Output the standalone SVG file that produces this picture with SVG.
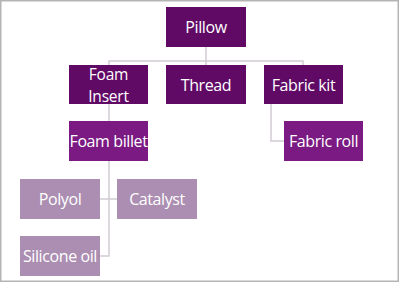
<svg xmlns="http://www.w3.org/2000/svg" width="400" height="283" viewBox="0 0 400 283">
<style>
.n1{fill:#600a66}
.n2{fill:#7a1a82}
.n3{fill:#ab8eb1}
text{font-family:"Segoe UI","Open Sans","Noto Sans",sans-serif;font-size:16px;letter-spacing:-0.4px;fill:#ffffff;text-anchor:middle}
.two{font-size:15.5px;letter-spacing:-0.2px}
.c{fill:none;stroke:#d2cad4;stroke-width:1.5}
</style>
<rect x="0.75" y="0.75" width="397.5" height="280.5" fill="#ffffff" stroke="#b4b4b4" stroke-width="1.5"/>
<g id="connectors">
<path class="c" d="M206 47V61M109 65V61H303V65M206 61V65"/>
<path class="c" d="M109 104V121"/>
<path class="c" d="M271 104V141H284"/>
<path class="c" d="M109 161V256H100M100 199H117"/>
</g>
<g id="pillow"><rect class="n1" x="166" y="7" width="80" height="40"/><text x="206" y="33">Pillow</text></g>
<g id="foam-insert"><rect class="n1" x="69" y="65" width="79" height="39"/><text class="two" x="108.5" y="80">Foam</text><text class="two" x="108.5" y="101.5">Insert</text></g>
<g id="thread"><rect class="n1" x="166" y="65" width="80" height="39"/><text x="206" y="90.5">Thread</text></g>
<g id="fabric-kit"><rect class="n1" x="264" y="65" width="79" height="39"/><text x="303.5" y="90.5">Fabric kit</text></g>
<g id="foam-billet"><rect class="n2" x="69" y="121" width="79" height="40"/><text x="108.5" y="147">Foam billet</text></g>
<g id="fabric-roll"><rect class="n2" x="284" y="121" width="79" height="40"/><text x="323.5" y="147">Fabric roll</text></g>
<g id="polyol"><rect class="n3" x="20" y="179" width="80" height="40"/><text x="60" y="205">Polyol</text></g>
<g id="catalyst"><rect class="n3" x="117" y="179" width="80" height="40"/><text x="157" y="205">Catalyst</text></g>
<g id="silicone-oil"><rect class="n3" x="20" y="236" width="80" height="40"/><text x="60" y="262">Silicone oil</text></g>
</svg>
